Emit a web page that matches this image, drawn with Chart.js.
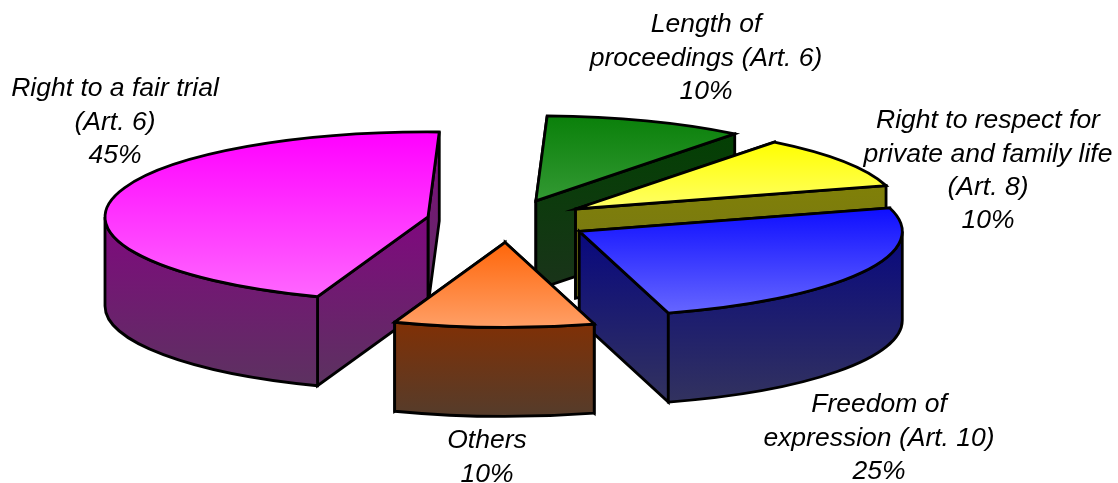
<!DOCTYPE html>
<html>
<head>
<meta charset="utf-8">
<title>Violations by article</title>
<style>
  html, body { margin: 0; padding: 0; background: #fff; }
  canvas { display: block; }
</style>
<script src="https://cdn.jsdelivr.net/npm/chart.js@4"></script>
</head>
<body>
<canvas id="myChart" width="1118" height="483"></canvas>
<script>
'use strict'

// ------------------------- Data -------------------------------------- //
const categories = [
    ['Length of', 'proceedings (Art. 6)'],
    ['Right to respect for', 'private and family life', '(Art. 8)'],
    ['Freedom of', 'expression (Art. 10)'],
    ['Others'],
    ['Right to a fair trial', '(Art. 6)']
];
const shares = [10, 10, 25, 10, 45];

// ------------------------- Styles -------------------------------------- //
const topStart = ['#0a800a', '#ffff00', '#0e0eff', '#ff660a', '#ff00ff'];
const topEnd = ['#339933', '#ffff66', '#6666ff', '#ff9f66', '#ff66ff'];
const sideStart = ['#034003', '#808008', '#08087f', '#803005', '#80087f'];
const sideEnd = ['#1a331a', '#73731a', '#33335e', '#553c2b', '#5b335f'];
const labelCenters = [[706, 25], [988, 121], [879, 405], [487, 441], [115, 89]];
const lineHeight = 33.3;

const squash = 0.263;     // flattening of the pie
const depth = 89;         // height of the slices

function faceGradient(ctx, y0, y1, from, to) {
    let g = ctx.createLinearGradient(0, y0, 0, y1);
    g.addColorStop(0, from);
    g.addColorStop(1, to);
    return g;
}

function paintFace(ctx, y0, y1, from, to) {
    ctx.fillStyle = faceGradient(ctx, y0, y1, from, to);
    ctx.fill();
    ctx.stroke();
}

function radialFace(ctx, s, angle, i) {
    let px = s.x + s.rx * Math.cos(angle);
    let py = s.y + s.ry * Math.sin(angle);
    ctx.beginPath();
    ctx.moveTo(s.x, s.y);
    ctx.lineTo(px, py);
    ctx.lineTo(px, py + depth);
    ctx.lineTo(s.x, s.y + depth);
    ctx.closePath();
    paintFace(ctx, Math.min(s.y, py), Math.max(s.y, py) + depth, sideStart[i], sideEnd[i]);
}

function drawSlice(ctx, s) {
    let i = s.index;
    // radial walls, the one further back first
    let walls = [s.start, s.end].sort((a, b) => Math.sin(a) - Math.sin(b));
    for (let a of walls) {
        radialFace(ctx, s, a, i);
    }

    // outer wall, only the part that faces the viewer
    let a0 = Math.max(s.start, 0);
    let a1 = Math.min(s.end, Math.PI);
    if (a1 > a0) {
        ctx.beginPath();
        ctx.ellipse(s.x, s.y, s.rx, s.ry, 0, a0, a1);
        ctx.ellipse(s.x, s.y + depth, s.rx, s.ry, 0, a1, a0, true);
        ctx.closePath();
        let top = s.y + s.ry * Math.min(Math.sin(a0), Math.sin(a1));
        paintFace(ctx, top, s.y + s.ry + depth, sideStart[i], sideEnd[i]);
    }

    // top of the slice, gradient runs over its bounding box
    let ys = [s.y, s.y + s.ry * Math.sin(s.start), s.y + s.ry * Math.sin(s.end)];
    for (let q of [-Math.PI / 2, Math.PI / 2, 3 * Math.PI / 2]) {
        if (q > s.start && q < s.end) {
            ys.push(s.y + s.ry * Math.sin(q));
        }
    }
    ctx.beginPath();
    ctx.moveTo(s.x, s.y);
    ctx.ellipse(s.x, s.y, s.rx, s.ry, 0, s.start, s.end);
    ctx.closePath();
    paintFace(ctx, Math.min(...ys), Math.max(...ys), topStart[i], topEnd[i]);
}

function drawLabels(ctx) {
    ctx.fillStyle = '#000';
    ctx.font = 'italic 26.5px "Liberation Sans"';
    ctx.textAlign = 'center';
    ctx.textBaseline = 'middle';
    categories.forEach(function (lines, i) {
        let all = lines.concat([shares[i] + '%']);
        all.forEach(function (line, n) {
            ctx.fillText(line, labelCenters[i][0], labelCenters[i][1] + n * lineHeight);
        });
    });
}

// Chart.js lays the arcs out, this plugin only paints them in 3D
const pie3d = {
    id: 'pie3d',
    beforeDatasetsDraw(chart) {
        let ctx = chart.ctx;
        let arcs = chart.getDatasetMeta(0).data;
        let cy = arcs[0].y;
        let slices = arcs.map(function (arc, index) {
            let p = arc.getProps(['x', 'y', 'startAngle', 'endAngle', 'outerRadius'], true);
            let mid = (p.startAngle + p.endAngle) / 2;
            let off = arc.options.offset / 4;    // same as ArcElement.draw
            return {
                index: index,
                x: p.x + Math.cos(mid) * off,
                y: cy + Math.sin(mid) * off * squash,
                rx: p.outerRadius,
                ry: p.outerRadius * squash,
                start: p.startAngle,
                end: p.endAngle
            };
        });
        ctx.save();
        ctx.lineWidth = 2.8;
        ctx.lineJoin = 'miter';
        ctx.strokeStyle = '#000';
        // back to front
        slices.sort((a, b) => a.y - b.y).forEach(s => drawSlice(ctx, s));
        drawLabels(ctx);
        ctx.restore();
        return false;
    }
};

// ------------------------------ Main ------------------------------ //
new Chart(document.getElementById('myChart').getContext('2d'), {
    type: 'pie',
    data: {
        labels: categories.map(c => c.join(' ')),
        datasets: [{
            data: shares,
            backgroundColor: topStart,
            borderWidth: 0,
            offset: 326
        }]
    },
    options: {
        responsive: false,
        animation: false,
        events: [],
        rotation: 2,
        radius: 323,
        layout: { padding: { right: 102, bottom: 41 } },
        plugins: {
            legend: { display: false },
            tooltip: { enabled: false }
        }
    },
    plugins: [pie3d]
});
</script>
</body>
</html>
